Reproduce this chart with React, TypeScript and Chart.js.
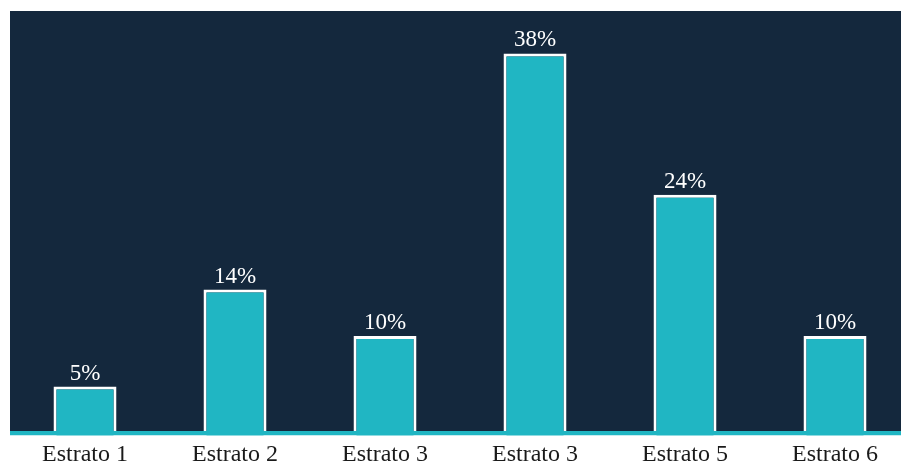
import React, { useEffect, useRef } from "react";
import { Chart, registerables } from "chart.js";

Chart.register(...registerables);

const categories = ["Estrato 1", "Estrato 2", "Estrato 3", "Estrato 3", "Estrato 5", "Estrato 6"];
const shares = [5, 14.6, 10, 38, 24, 10];
const shareLabels = ["5%", "14%", "10%", "38%", "24%", "10%"];

const DARK = "#14283d";
const TEAL = "#20b6c3";
const FONT = "'Liberation Serif', 'Times New Roman', serif";

const decor = {
  id: "decor",
  beforeDraw(chart: any) {
    const { ctx, chartArea, width } = chart;
    ctx.save();
    ctx.fillStyle = DARK;
    ctx.fillRect(chartArea.left, chartArea.top, width - chartArea.left, 431 - chartArea.top);
    ctx.restore();
  },
  afterDatasetsDraw(chart: any) {
    const { ctx, chartArea, width } = chart;
    ctx.save();
    ctx.fillStyle = TEAL;
    ctx.fillRect(chartArea.left, 431, width - chartArea.left, 4.5);
    ctx.fillStyle = "#ffffff";
    ctx.fillRect(chartArea.left, 435.5, width - chartArea.left, chartArea.bottom - 435.5 + 1);
    const meta = chart.getDatasetMeta(0);
    ctx.fillStyle = "#ffffff";
    ctx.font = `23px ${FONT}`;
    ctx.textAlign = "center";
    ctx.textBaseline = "alphabetic";
    meta.data.forEach((bar: any, i: number) => {
      ctx.fillText(shareLabels[i], bar.x, bar.y - 7);
    });
    ctx.restore();
  },
};

export default function App() {
  const ref = useRef<HTMLCanvasElement>(null);
  useEffect(() => {
    if (!ref.current) return;
    const chart = new Chart(ref.current, {
      type: "bar",
      data: {
        labels: categories,
        datasets: [
          {
            data: shares,
            backgroundColor: TEAL,
            borderColor: "#ffffff",
            borderWidth: 3,
            borderSkipped: "bottom",
            categoryPercentage: 1,
            barPercentage: 0.42,
          },
        ],
      },
      options: {
        responsive: false,
        animation: false,
        layout: { padding: { left: 10, top: 11, right: 2, bottom: 0 } },
        plugins: { legend: { display: false }, tooltip: { enabled: false } },
        scales: {
          x: {
            grid: { display: false, drawTicks: false },
            border: { display: false },
            ticks: { color: "#1a1a1a", font: { family: FONT, size: 24 }, padding: 3, maxRotation: 0 },
            afterFit: (scale: any) => {
              scale.height = 27;
            },
          },
          y: {
            display: false,
            min: 0,
            max: 42.2,
          },
        },
      },
      plugins: [decor],
    });
    return () => chart.destroy();
  }, []);
  return (
    <div style={{ position: "absolute", left: 0, top: 0, width: 901, height: 464, overflow: "hidden", background: "#fff" }}>
      <canvas ref={ref} width={912} height={464} style={{ display: "block", width: 912, height: 464 }} />
    </div>
  );
}
